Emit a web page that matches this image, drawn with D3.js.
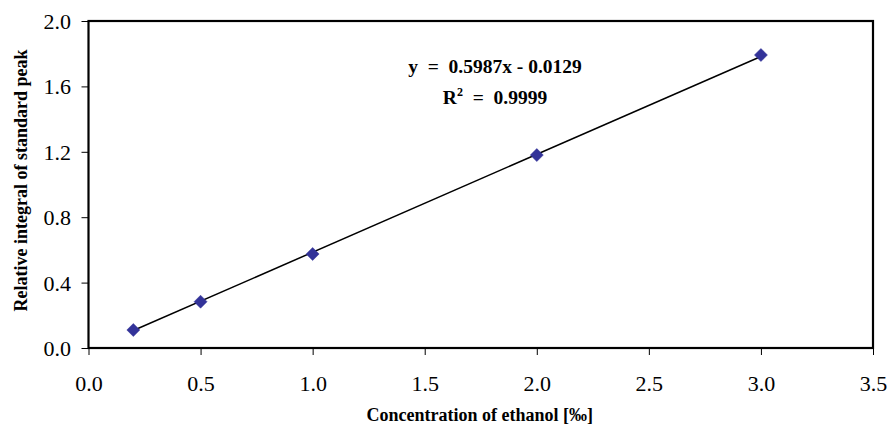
<!DOCTYPE html>
<html><head><meta charset="utf-8">
<script src="https://cdn.jsdelivr.net/npm/d3@7"></script>
<style>body{margin:0;background:#fff;} svg{display:block;}</style>
</head><body>
<svg id="chart" width="889" height="432" font-family="Liberation Serif"></svg>
<script>
const concentrations = [0.2, 0.5, 1.0, 2.0, 3.0];
const relIntegrals = [0.110, 0.283, 0.575, 1.180, 1.792];
const xTicks = [0.0, 0.5, 1.0, 1.5, 2.0, 2.5, 3.0, 3.5];
const yTicks = [0.0, 0.4, 0.8, 1.2, 1.6, 2.0];
const trendSlope = 0.5987;
const trendIntercept = -0.0129;
const equationText = "y  =  0.5987x - 0.0129";
const r2Value = "0.9999";
const xTitle = "Concentration of ethanol [‰]";
const yTitle = "Relative integral of standard peak";

const svg = d3.select("#chart");
const L = 88.5, R = 873, T = 21, B = 348;
const x = d3.scaleLinear().domain([0, 3.5]).range([L, R]);
const y = d3.scaleLinear().domain([0, 2.0]).range([B, T]);
const serif = "Liberation Serif";

// axes
const xAxis = svg.append("g").attr("transform", `translate(0,${B})`)
  .call(d3.axisBottom(x).tickValues(xTicks).tickFormat(d3.format(".1f")).tickSize(7).tickPadding(20));
const yAxis = svg.append("g").attr("transform", `translate(${L},0)`)
  .call(d3.axisLeft(y).tickValues(yTicks).tickFormat(d3.format(".1f")).tickSize(7).tickPadding(10.5));
[xAxis, yAxis].forEach(g => {
  g.attr("font-family", serif).attr("font-size", 22);
  g.select(".domain").remove();
  g.selectAll("line").attr("stroke", "#000").attr("stroke-width", 1);
  g.selectAll("text").attr("font-family", serif).attr("font-size", 22).attr("fill", "#000");
});
yAxis.selectAll("text").attr("dy", "0.34em");

// plot frame
svg.append("rect").attr("x", L).attr("y", T).attr("width", R - L).attr("height", B - T)
  .attr("fill", "none").attr("stroke", "#000").attr("stroke-width", 2.2);

// trendline
const xMin = d3.min(concentrations), xMax = d3.max(concentrations);
svg.append("line")
  .attr("x1", x(xMin)).attr("y1", y(trendSlope * xMin + trendIntercept))
  .attr("x2", x(xMax)).attr("y2", y(trendSlope * xMax + trendIntercept))
  .attr("stroke", "#000").attr("stroke-width", 1.5);

// markers
const data = concentrations.map((c, i) => ({c, v: relIntegrals[i]}));
svg.append("g").selectAll("path").data(data).join("path")
  .attr("transform", d => `translate(${x(d.c)},${y(d.v)})`)
  .attr("d", "M0,-6.5L6.5,0L0,6.5L-6.5,0Z")
  .attr("fill", "#333399").attr("stroke", "#333399").attr("stroke-width", 0.5);

// equation
svg.append("text").attr("x", 495).attr("y", 72.5).attr("text-anchor", "middle")
  .attr("font-family", serif).attr("font-weight", "bold").attr("font-size", 19.5)
  .attr("xml:space", "preserve").style("white-space", "pre").text(equationText);
const r2 = svg.append("text").attr("x", 495).attr("y", 103.5).attr("text-anchor", "middle")
  .attr("font-family", serif).attr("font-weight", "bold").attr("font-size", 19.5)
  .attr("xml:space", "preserve").style("white-space", "pre");
r2.append("tspan").text("R");
r2.append("tspan").attr("font-size", 12).attr("dy", -8).text("2");
r2.append("tspan").attr("dy", 8).text("  =  " + r2Value);

// axis titles
svg.append("text").attr("x", (L + R) / 2 - 1).attr("y", 421).attr("text-anchor", "middle")
  .attr("font-family", serif).attr("font-weight", "bold").attr("font-size", 18).text(xTitle);
svg.append("text").attr("transform", `translate(27,${(T + B) / 2 - 4}) rotate(-90)`)
  .attr("text-anchor", "middle")
  .attr("font-family", serif).attr("font-weight", "bold").attr("font-size", 18).text(yTitle);
</script>
</body></html>
